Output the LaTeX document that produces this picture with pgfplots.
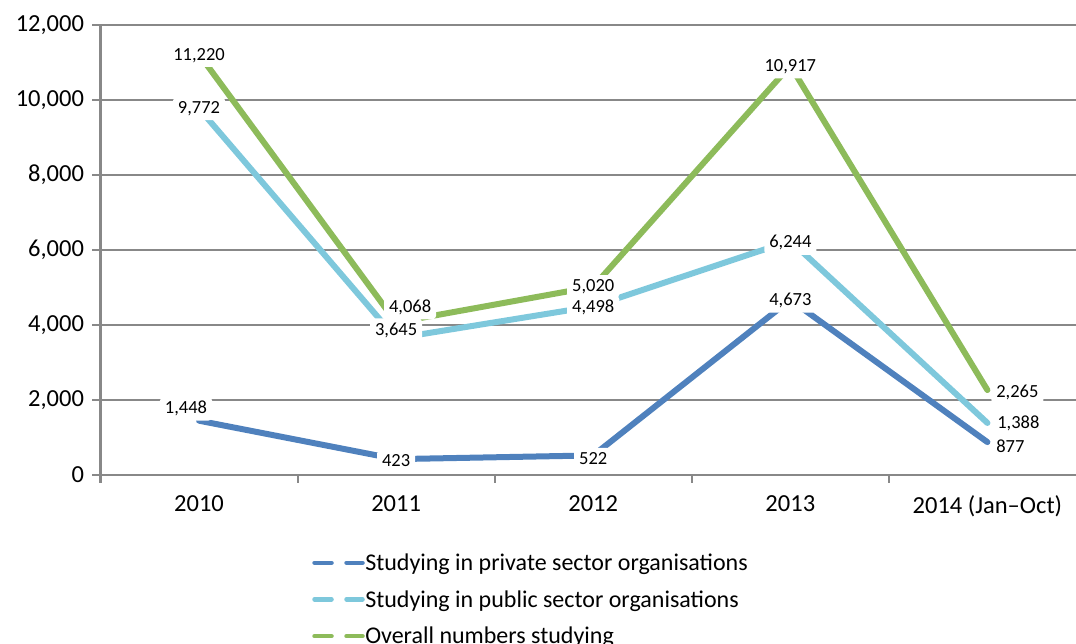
\documentclass[border=0pt]{standalone}
\usepackage{fontspec}
\setmainfont{Carlito}
\usepackage{pgfplots}
\usepackage{pgfplotstable}
\pgfplotsset{compat=1.18}
\definecolor{cblue}{HTML}{4F81BD}
\definecolor{ccyan}{HTML}{7EC8DC}
\definecolor{cgreen}{HTML}{8DBB5A}
\definecolor{cgrid}{HTML}{888888}

\pgfplotsset{
  lbl/.style={
    draw=none, mark=none, forget plot,
    nodes near coords, nodes near coords align={center},
    visualization depends on={\thisrow{dx} \as \dx},
    visualization depends on={\thisrow{dy} \as \dy},
    every node near coord/.append style={
      xshift=\dx bp, yshift=\dy bp, fill=white, text=black,
      inner xsep=5bp, inner ysep=4.5bp, rounded corners=4bp,
      font=\fontsize{18.5bp}{22bp}\selectfont},
  },
  ser/.style={#1, line width=6bp, line cap=round, line join=round},
}

\pgfplotstableread{
x y dx dy
0 1448 -13 12
1 423 0 -1
2 522 0 -3
3 4673 0 -1
4 877 23 -4
}\privatet
\pgfplotstableread{
x y dx dy
0 9772 0 0
1 3645 0 8
2 4498 0 -1
3 6244 0 -2
4 1388 31 0
}\publict
\pgfplotstableread{
x y dx dy
0 11220 0 -1
1 4068 14 15
2 5020 0 0
3 10917 0 -1
4 2265 30 -2
}\overallt

\begin{document}
\begin{tikzpicture}
\useasboundingbox (0,0) rectangle (1076bp,644bp);
\begin{axis}[
  at={(100.5bp,169bp)}, anchor=south west,
  scale only axis, width=975bp, height=450bp,
  xmin=-0.5, xmax=4.447, ymin=0, ymax=12000,
  axis x line*=bottom, axis y line*=left,
  axis line style={draw=cgrid, line width=2.2bp},
  xtick={0,1,2,3,4},
  xticklabels={2010,2011,2012,2013,2014 (Jan–Oct)},
  minor xtick={-0.5,0.5,1.5,2.5,3.5},
  ytick={0,2000,...,12000},
  scaled y ticks=false,
  tick align=outside,
  major tick length=8bp, minor tick length=8bp,
  x tick style={draw=none},
  minor x tick style={draw=cgrid, line width=2bp},
  y tick style={draw=cgrid, line width=2.2bp},
  ymajorgrids,
  grid style={draw=cgrid, line width=2.2bp},
  tick label style={font=\fontsize{24.5bp}{28bp}\selectfont, text=black},
  yticklabel style={xshift=-5bp},
  xticklabel style={yshift=-9bp},
  /pgf/number format/assume math mode=true,
  /pgf/number format/fixed,
  /pgf/number format/precision=0,
  /pgf/number format/1000 sep={,},
  legend style={draw=none, fill=none, at={(0.217,-0.170)}, anchor=north west,
    font=\fontsize{24bp}{28bp}\selectfont, row sep=14.5bp, inner sep=0pt,
    nodes={inner xsep=0.5bp, inner ysep=2bp}},
  legend cell align=left,
  legend image code/.code={\draw[#1, line width=4.5bp, line cap=round] (2bp,0) -- (19bp,0) (34bp,0) -- (50bp,0);},
]
\addplot[ser=cblue] table[x=x,y=y] {\privatet};
\addlegendentry{Studying in private sector organisations}
\addplot[ser=ccyan] table[x=x,y=y] {\publict};
\addlegendentry{Studying in public sector organisations}
\addplot[ser=cgreen] table[x=x,y=y] {\overallt};
\addlegendentry{Overall numbers studying}

\addplot[lbl] table[x=x,y=y] {\privatet};
\addplot[lbl] table[x=x,y=y] {\publict};
\addplot[lbl] table[x=x,y=y] {\overallt};
\end{axis}
\end{tikzpicture}
\end{document}
